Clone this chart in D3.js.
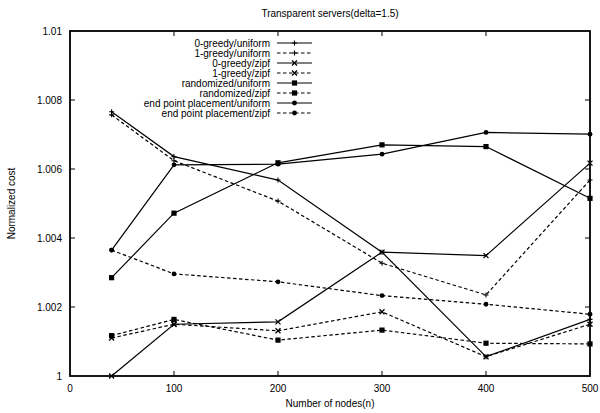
<!DOCTYPE html>
<html>
<head>
<meta charset="utf-8">
<script src="https://cdn.jsdelivr.net/npm/d3@7"></script>
<style>
  body { margin: 0; background: #fff; }
  svg { font-family: "Liberation Sans", Arial, sans-serif; }
</style>
</head>
<body>
<svg width="600" height="413"></svg>
<script>
const width = 600;
const height = 413;

// x values (number of nodes)
const nodes = [40, 100, 200, 300, 400, 500];

// series values
const greedy0Uniform = [1.00766, 1.00636, 1.00568, 1.00359, 1.00056, 1.00164];
const greedy1Uniform = [1.00757, 1.00624, 1.00507, 1.00327, 1.00235, 1.00568];
const greedy0Zipf = [1.0000, 1.0015, 1.00157, 1.00359, 1.00349, 1.00617];
const greedy1Zipf = [1.0011, 1.0015, 1.00131, 1.00186, 1.00056, 1.0015];
const randUniform = [1.00285, 1.00472, 1.00618, 1.0067, 1.00665, 1.00515];
const randZipf = [1.00117, 1.00164, 1.00104, 1.00133, 1.00095, 1.00093];
const endUniform = [1.00365, 1.00612, 1.00614, 1.00643, 1.00706, 1.00701];
const endZipf = [1.00365, 1.00296, 1.00273, 1.00233, 1.00208, 1.00179];

const seriesNames = ["0-greedy/uniform", "1-greedy/uniform", "0-greedy/zipf", "1-greedy/zipf",
  "randomized/uniform", "randomized/zipf", "end point placement/uniform", "end point placement/zipf"];
const seriesValues = [greedy0Uniform, greedy1Uniform, greedy0Zipf, greedy1Zipf,
  randUniform, randZipf, endUniform, endZipf];
const seriesMarkers = ["plus", "plus", "cross", "cross", "square", "square", "circle", "circle"];
const seriesDashed = [false, true, false, true, false, true, false, true];

const xTicks = [0, 100, 200, 300, 400, 500];
const yTicks = [1, 1.002, 1.004, 1.006, 1.008, 1.01];
const yTickLabels = ["1", "1.002", "1.004", "1.006", "1.008", "1.01"];

const svg = d3.select('svg');

const x = d3.scaleLinear().domain([0, 500]).range([70, 590]);
const y = d3.scaleLinear().domain([1, 1.01]).range([376, 31]);

// frame
svg.append("rect")
  .attr("x", x(0)).attr("y", y(1.01))
  .attr("width", x(500) - x(0)).attr("height", y(1) - y(1.01))
  .style("fill", "none").style("stroke", "#000").style("stroke-width", 1.8);

// inward ticks on all four sides
const tk = 5;
svg.selectAll("line.xtick")
  .data(xTicks.slice(1, -1))
  .enter().append("line")
  .attr("x1", d => x(d)).attr("x2", d => x(d))
  .attr("y1", y(1)).attr("y2", y(1) - tk)
  .style("stroke", "#000");
svg.selectAll("line.xtick2")
  .data(xTicks.slice(1, -1))
  .enter().append("line")
  .attr("x1", d => x(d)).attr("x2", d => x(d))
  .attr("y1", y(1.01)).attr("y2", y(1.01) + tk)
  .style("stroke", "#000");
svg.selectAll("line.ytick")
  .data(yTicks.slice(1, -1))
  .enter().append("line")
  .attr("x1", x(0)).attr("x2", x(0) + tk)
  .attr("y1", d => y(d)).attr("y2", d => y(d))
  .style("stroke", "#000");
svg.selectAll("line.ytick2")
  .data(yTicks.slice(1, -1))
  .enter().append("line")
  .attr("x1", x(500)).attr("x2", x(500) - tk)
  .attr("y1", d => y(d)).attr("y2", d => y(d))
  .style("stroke", "#000");

// tick labels
svg.selectAll("text.xlab")
  .data(xTicks)
  .enter().append("text")
  .attr("x", d => x(d)).attr("y", y(1) + 16)
  .attr("text-anchor", "middle")
  .style("font-size", "10px")
  .text(d => d);
svg.selectAll("text.ylab")
  .data(yTicks)
  .enter().append("text")
  .attr("x", x(0) - 8).attr("y", d => y(d) + 3.5)
  .attr("text-anchor", "end")
  .style("font-size", "10px")
  .text((d, i) => yTickLabels[i]);

// titles
svg.append("text")
  .attr("x", 330).attr("y", 17)
  .attr("text-anchor", "middle")
  .style("font-size", "10px")
  .text("Transparent servers(delta=1.5)");
svg.append("text")
  .attr("x", 330).attr("y", 407)
  .attr("text-anchor", "middle")
  .style("font-size", "10px")
  .text("Number of nodes(n)");
svg.append("text")
  .attr("transform", "translate(15," + y(1.005) + ") rotate(-90)")
  .attr("text-anchor", "middle")
  .style("font-size", "10px")
  .text("Normalized cost");

function drawMarker(g, type, cx, cy) {
  if (type === "plus") {
    g.append("path").attr("d", `M${cx - 2.5},${cy}H${cx + 2.5}M${cx},${cy - 2.5}V${cy + 2.5}`)
      .style("stroke", "#000").style("stroke-width", 1.1);
  } else if (type === "cross") {
    g.append("path").attr("d", `M${cx - 2.5},${cy - 2.5}L${cx + 2.5},${cy + 2.5}M${cx - 2.5},${cy + 2.5}L${cx + 2.5},${cy - 2.5}`)
      .style("stroke", "#000").style("stroke-width", 1.3);
  } else if (type === "square") {
    g.append("rect").attr("x", cx - 2.6).attr("y", cy - 2.6).attr("width", 5.2).attr("height", 5.2)
      .style("fill", "#000");
  } else {
    g.append("circle").attr("cx", cx).attr("cy", cy).attr("r", 2.4).style("fill", "#000");
  }
}

const line = d3.line()
  .x((d, i) => x(nodes[i]))
  .y(d => y(d));

seriesValues.forEach((vals, s) => {
  const g = svg.append("g");
  g.append("path")
    .datum(vals)
    .attr("d", line)
    .style("fill", "none")
    .style("stroke", "#000")
    .style("stroke-width", 1.2)
    .style("stroke-dasharray", seriesDashed[s] ? "3.5,2.5" : null);
  vals.forEach((v, i) => drawMarker(g, seriesMarkers[s], x(nodes[i]), y(v)));
});

// legend
seriesNames.forEach((name, s) => {
  const ly = 43 + s * 10;
  const g = svg.append("g");
  g.append("text")
    .attr("x", 270).attr("y", ly + 3.5)
    .attr("text-anchor", "end")
    .style("font-size", "10px")
    .text(name);
  g.append("line")
    .attr("x1", 277).attr("x2", 312)
    .attr("y1", ly).attr("y2", ly)
    .style("stroke", "#000").style("stroke-width", 1.2)
    .style("stroke-dasharray", seriesDashed[s] ? "3.5,2.5" : null);
  drawMarker(g, seriesMarkers[s], 294.5, ly);
});
</script>
</body>
</html>
